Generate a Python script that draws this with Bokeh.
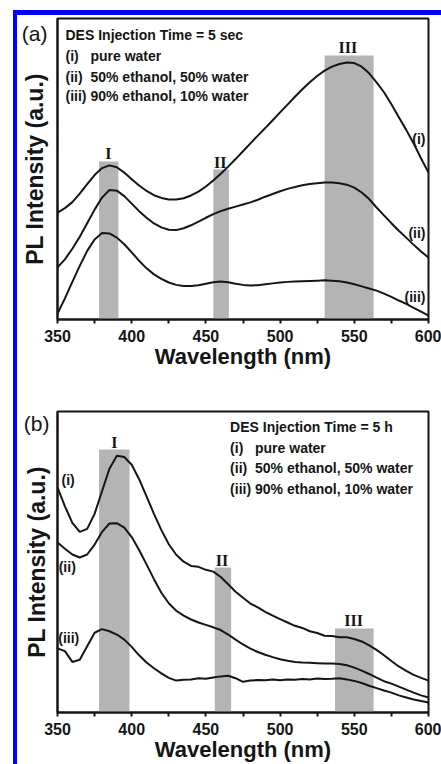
from bokeh.plotting import figure
from bokeh.layouts import column, row
from bokeh.models import Range1d, FixedTicker, Spacer
from bokeh.embed import file_html
from bokeh.resources import INLINE
from bokeh.core.properties import value

# ---------------- data ----------------
wavelength = list(range(350, 601, 5))

# panel (a): DES injection time = 5 sec
a_pure_water = [35.5, 37.0, 39.0, 41.8, 45.0, 48.0, 50.3, 51.2, 50.6, 48.8,
                46.6, 44.5, 42.7, 41.3, 40.4, 39.9, 39.9, 40.3, 41.2, 42.5,
                44.2, 46.2, 48.4, 50.8, 53.3, 55.9, 58.5, 61.1, 63.6, 66.2,
                68.8, 71.4, 74.0, 76.5, 78.8, 80.9, 82.7, 84.0, 84.9, 85.4,
                85.2, 84.0, 81.8, 78.8, 75.5, 71.5, 67.2, 63.0, 58.5, 53.5, 48.8]
a_ethanol_50 = [17.3, 20.0, 23.5, 27.5, 32.0, 36.5, 40.5, 43.0, 42.8, 41.0,
                38.5, 36.0, 33.8, 31.9, 30.6, 29.8, 29.7, 30.3, 31.3, 32.5,
                33.8, 35.0, 36.0, 36.8, 37.5, 38.2, 38.9, 39.8, 40.8, 41.7,
                42.6, 43.4, 44.0, 44.6, 45.0, 45.3, 45.5, 45.5, 45.3, 44.8,
                43.8, 42.2, 40.0, 37.2, 34.6, 32.0, 29.5, 27.2, 24.8, 22.6, 20.6]
a_ethanol_90 = [2.0, 7.0, 12.5, 17.8, 22.8, 26.6, 28.7, 28.6, 27.2, 25.0,
                22.3, 19.5, 17.0, 15.0, 13.5, 12.3, 11.5, 11.1, 11.1, 11.4,
                11.9, 12.4, 12.6, 12.4, 11.9, 11.5, 11.3, 11.4, 11.7, 12.0,
                12.3, 12.5, 12.6, 12.7, 12.8, 12.9, 13.0, 12.9, 12.7, 12.3,
                11.7, 11.0, 10.3, 9.6, 8.6, 7.5, 6.3, 5.2, 3.9, 2.6, 1.3]

# panel (b): DES injection time = 5 h
b_pure_water = [74.8, 68.5, 63.0, 60.0, 61.0, 66.0, 73.5, 81.0, 85.3, 84.9,
                82.3, 77.5, 71.8, 66.0, 60.6, 55.9, 52.4, 50.1, 48.7, 48.4,
                47.4, 46.8, 45.0, 42.6, 40.1, 38.1, 36.2, 34.9, 33.4, 32.2,
                31.0, 29.9, 28.8, 28.1, 27.0, 26.4, 25.5, 25.4, 25.0, 25.0,
                24.4, 23.6, 22.3, 20.8, 19.0, 17.1, 15.3, 13.8, 12.5, 11.5, 10.6]
b_ethanol_50 = [56.5, 54.4, 52.5, 51.5, 52.5, 55.8, 60.0, 62.8, 62.9, 61.4,
                58.3, 54.0, 49.2, 44.3, 39.8, 36.3, 33.8, 32.2, 30.9, 29.9,
                29.1, 28.3, 27.4, 25.9, 24.2, 22.6, 21.2, 20.1, 19.2, 18.4,
                17.7, 17.2, 16.8, 16.6, 16.5, 16.4, 16.3, 16.3, 16.1, 15.7,
                14.9, 13.9, 12.8, 11.6, 10.4, 9.6, 8.6, 7.6, 6.6, 5.7, 5.0]
b_ethanol_90 = [21.3, 20.4, 16.8, 17.5, 22.0, 26.5, 27.7, 27.0, 25.9, 24.2,
                21.8, 19.0, 16.6, 14.7, 13.0, 11.5, 10.6, 10.9, 11.0, 11.4,
                11.2, 11.6, 12.0, 12.2, 11.4, 10.2, 10.6, 10.8, 10.7, 11.0,
                10.7, 11.0, 10.9, 11.1, 11.0, 11.3, 11.1, 11.2, 11.4, 11.0,
                10.5, 9.8, 8.9, 8.1, 7.3, 6.6, 5.7, 5.0, 4.3, 3.8, 3.3]

band_names = ["I", "II", "III"]
a_band_left = [378, 455, 530]
a_band_right = [391, 465.5, 563]
a_band_top = [52.5, 49.8, 87.7]
a_band_label_x = [384.3, 459.6, 545.6]
a_band_label_y = [55.1, 52.2, 90.4]
b_band_left = [378, 456, 537]
b_band_right = [398.5, 467, 563]
b_band_top = [87.4, 48.2, 27.9]
b_band_label_x = [388.3, 460.9, 549.6]
b_band_label_y = [89.7, 50.5, 30.6]

curve_ids = ["(i)", "(ii)", "(iii)"]
legend_texts = ["pure water", "50% ethanol, 50% water", "90% ethanol, 10% water"]
a_title = "DES Injection Time = 5 sec"
b_title = "DES Injection Time = 5 h"
a_tag, a_tag_y = "(a)", 95
b_tag, b_tag_y = "(b)", 96

x_ticks = [350, 400, 450, 500, 550, 600]
x_minor_ticks = [375, 425, 475, 525, 575]

FONT = "Liberation Sans"
SERIF = "Liberation Serif"
INK = "#151515"
GRAY = "#b4b4b4"


def make_panel(height, mb_left, mb_right, mb_top, mb_bottom, curves,
               band_left, band_right, band_top, band_lx, band_ly,
               legend_x, legend_tx, legend_y, title_text,
               id_x, id_y, id_align, tag, tag_y, tag_standoff, label_standoff):
    p = figure(width=424, height=height, x_range=Range1d(350, 600),
               y_range=Range1d(0, 100), output_backend="svg",
               toolbar_location=None,
               min_border_left=mb_left, min_border_right=mb_right,
               min_border_top=mb_top, min_border_bottom=mb_bottom)
    p.xgrid.visible = False
    p.ygrid.visible = False
    p.outline_line_color = INK
    p.outline_line_width = 2
    p.outline_line_alpha = 1.0
    p.background_fill_color = "white"
    p.border_fill_color = "white"

    # shaded bands
    p.quad(left=band_left, right=band_right, bottom=[0, 0, 0], top=band_top,
           fill_color=GRAY, line_color=None)
    p.text(x=band_lx, y=band_ly, text=band_names,
           text_font=value(SERIF), text_font_style="bold",
           text_font_size="16px", text_align="center",
           text_baseline="middle", text_color=INK)

    for ys in curves:
        p.line(wavelength, ys, line_color=INK, line_width=2)

    # curve ids
    p.text(x=id_x, y=id_y, text=curve_ids, text_font=value(FONT),
           text_font_style="bold", text_font_size="14px",
           text_align=id_align, text_baseline="middle", text_color=INK)

    # legend block
    p.text(x=[legend_x], y=[legend_y[0]], text=[title_text],
           text_font=value(FONT), text_font_style="bold",
           text_font_size="14px", text_align="left",
           text_baseline="middle", text_color=INK)
    p.text(x=[legend_x] * 3, y=legend_y[1:], text=curve_ids,
           text_font=value(FONT), text_font_style="bold",
           text_font_size="14px", text_align="left",
           text_baseline="middle", text_color=INK)
    p.text(x=[legend_tx] * 3, y=legend_y[1:], text=legend_texts,
           text_font=value(FONT), text_font_style="bold",
           text_font_size="14px", text_align="left",
           text_baseline="middle", text_color=INK)

    # x axis
    xa = p.xaxis[0]
    xa.ticker = FixedTicker(ticks=x_ticks, minor_ticks=x_minor_ticks)
    xa.axis_label = "Wavelength (nm)"
    xa.axis_label_text_font = FONT
    xa.axis_label_text_font_style = "bold"
    xa.axis_label_text_font_size = "22px"
    xa.axis_label_text_color = INK
    xa.axis_label_standoff = -1
    xa.major_label_text_font = FONT
    xa.major_label_text_font_style = "bold"
    xa.major_label_text_font_size = "16px"
    xa.major_label_text_color = INK
    xa.major_label_standoff = 6
    xa.major_tick_in = 0
    xa.major_tick_out = 4
    xa.minor_tick_in = 0
    xa.minor_tick_out = 4
    xa.major_tick_line_width = 2
    xa.minor_tick_line_width = 2
    xa.major_tick_line_color = INK
    xa.minor_tick_line_color = INK
    xa.axis_line_width = 2
    xa.axis_line_color = INK

    # y axis: no visible ticks; the single tick label carries the panel tag
    ya = p.yaxis[0]
    ya.ticker = FixedTicker(ticks=[tag_y], minor_ticks=[])
    ya.major_label_overrides = {tag_y: tag}
    ya.major_label_text_font = FONT
    ya.major_label_text_font_style = "normal"
    ya.major_label_text_font_size = "21px"
    ya.major_label_text_color = INK
    ya.major_label_standoff = tag_standoff
    ya.major_tick_in = 0
    ya.major_tick_out = 0
    ya.major_tick_line_color = None
    ya.minor_tick_line_color = None
    ya.axis_label = "PL Intensity (a.u.)"
    ya.axis_label_text_font = FONT
    ya.axis_label_text_font_style = "bold"
    ya.axis_label_text_font_size = "23px"
    ya.axis_label_text_color = INK
    ya.axis_label_standoff = label_standoff
    ya.axis_line_width = 2
    ya.axis_line_color = INK
    return p


pa = make_panel(370, 40, 12, 3, 66,
                [a_pure_water, a_ethanol_50, a_ethanol_90],
                a_band_left, a_band_right, a_band_top,
                a_band_label_x, a_band_label_y,
                355.4, 372.2, [94.4, 87.4, 80.7, 74.1], a_title,
                [598, 598, 598], [60.1, 28.9, 7.6], "right",
                a_tag, a_tag_y, 10, -29)

pb = make_panel(379, 39, 13, 26, 52,
                [b_pure_water, b_ethanol_50, b_ethanol_90],
                b_band_left, b_band_right, b_band_top,
                b_band_label_x, b_band_label_y,
                466.3, 483.1, [94.7, 88.0, 81.1, 74.4], b_title,
                [352.7, 350.8, 350.5], [77.1, 48.2, 24.6], "left",
                b_tag, b_tag_y, 8, -29)

blue_top = Spacer(width=428, height=5, styles={"background-color": "#0000ff"})
blue_left = Spacer(width=4, height=749, styles={"background-color": "#0000ff"})
layout = column(blue_top, row(blue_left, column(pa, pb)), margin=(10, 0, 0, 13))

open("out.html", "w").write(file_html(layout, INLINE))
